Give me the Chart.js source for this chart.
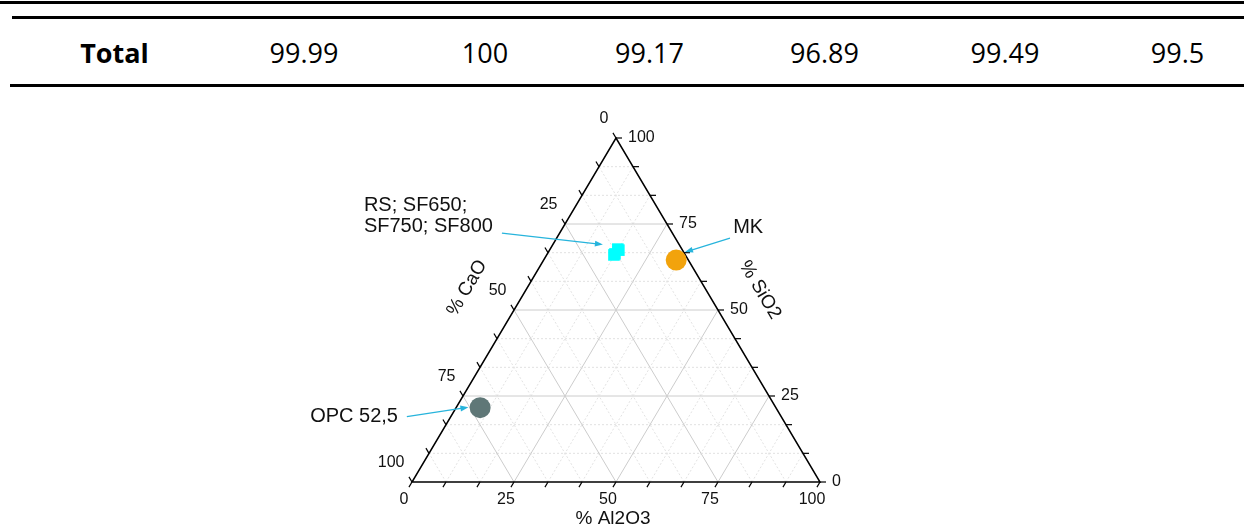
<!DOCTYPE html>
<html>
<head>
<meta charset="utf-8">
<script src="https://cdn.jsdelivr.net/npm/chart.js@4"></script>
<style>
  body { margin: 0; background: #fff; }
  #wrap { position: relative; width: 1244px; height: 528px; overflow: hidden; }
  #grafico { position: absolute; left: 0; top: 0; }
  .linea { position: absolute; right: 0; background: #000; }
  .celda { position: absolute; top: 52px; transform: translate(-50%, -50%);
           font-family: 'Open Sans', sans-serif; font-size: 27px; color: #000; white-space: nowrap; }
</style>
</head>
<body>
<div id="wrap">
  <div class="linea" style="left:0; top:1px; height:3px;"></div>
  <div class="linea" style="left:12px; top:16px; height:3px;"></div>
  <div class="linea" style="left:10px; top:84px; height:3px;"></div>
  <div id="tabla"></div>
  <canvas id="grafico" width="1244" height="528"></canvas>
</div>
<script>
// fila de la tabla
const filaTitulo = 'Total'
const totales = ['99.99', '100', '99.17', '96.89', '99.49', '99.5']

// composiciones (% en masa)
const rsNombres = ['RS', 'SF650', 'SF750', 'SF800']
const rsSiO2 = [67.7, 67.4, 66.0, 66.3]
const rsAl2O3 = [16.6, 17.0, 16.5, 16.6]
const rsCaO = [15.7, 15.6, 17.5, 17.1]

const mkSiO2 = [64.5]
const mkAl2O3 = [32.5]
const mkCaO = [3.0]

const opcSiO2 = [21.6]
const opcAl2O3 = [5.9]
const opcCaO = [72.5]

const tickLabels = ['0', '25', '50', '75', '100']

// tabla en html
const columnas = [114.5, 304, 485, 649.5, 824.5, 1005, 1177.5]
const tabla = document.getElementById('tabla')
const celdas = [filaTitulo, ...totales]
celdas.forEach((txt, i) => {
    const span = document.createElement('span')
    span.className = 'celda'
    span.style.left = columnas[i] + 'px'
    if (i === 0) span.style.fontWeight = 'bold'
    span.textContent = txt
    tabla.appendChild(span)
})

// ternario -> cartesiano
const aXY = (si, al, ca) => si.map((s, i) => {
    const suma = s + al[i] + ca[i]
    const fs = s / suma
    const fa = al[i] / suma
    return { x: fa + fs / 2, y: fs }
})

const fuente = "'Liberation Sans', Arial, sans-serif"
const colorFlecha = '#27b4dc'

const anotaciones = [
    { ds: 0, lineas: ['RS; SF650;', 'SF750; SF800'], dx: -252.5, dy: [-47, -26], desde: [-114.5, -19], hasta: [-13.5, -7.5] },
    { ds: 1, lineas: ['MK'], dx: 57, dy: [-32.6], desde: [53.8, -22], hasta: [8.8, -8] },
    { ds: 2, lineas: ['OPC 52,5'], dx: -170, dy: [9], desde: [-73.3, 9], hasta: [-11.7, -0.4] }
]

const flecha = (ctx, x1, y1, x2, y2) => {
    const ang = Math.atan2(y2 - y1, x2 - x1)
    ctx.strokeStyle = colorFlecha
    ctx.fillStyle = colorFlecha
    ctx.lineWidth = 1.2
    ctx.beginPath()
    ctx.moveTo(x1, y1)
    ctx.lineTo(x2 - 6 * Math.cos(ang), y2 - 6 * Math.sin(ang))
    ctx.stroke()
    ctx.beginPath()
    ctx.moveTo(x2, y2)
    ctx.lineTo(x2 - 8 * Math.cos(ang) + 3 * Math.sin(ang), y2 - 8 * Math.sin(ang) - 3 * Math.cos(ang))
    ctx.lineTo(x2 - 8 * Math.cos(ang) - 3 * Math.sin(ang), y2 - 8 * Math.sin(ang) + 3 * Math.cos(ang))
    ctx.closePath()
    ctx.fill()
}

const ternario = {
    id: 'ternario',
    beforeDatasetsDraw(chart) {
        const ctx = chart.ctx
        const xs = chart.scales.x
        const ys = chart.scales.y
        // a = fraccion Al2O3, s = fraccion SiO2
        const p = (a, s) => ({ x: xs.getPixelForValue(a + s / 2), y: ys.getPixelForValue(s) })
        const linea = (p1, p2) => { ctx.beginPath(); ctx.moveTo(p1.x, p1.y); ctx.lineTo(p2.x, p2.y); ctx.stroke() }
        const n = 12
        ctx.save()
        // rejilla
        for (let k = 1; k < n; k++) {
            const f = k / n
            const mayor = k % 3 === 0
            ctx.strokeStyle = mayor ? '#cccccc' : '#e2e2e2'
            ctx.lineWidth = 1
            ctx.setLineDash(mayor ? [] : [2, 2])
            linea(p(0, f), p(1 - f, f))
            linea(p(f, 0), p(f, 1 - f))
            linea(p(1 - f, 0), p(0, 1 - f))
        }
        ctx.setLineDash([])
        // bordes
        const bl = p(0, 0), br = p(1, 0), top = p(0, 1)
        ctx.strokeStyle = '#000'
        ctx.lineWidth = 1.5
        ctx.beginPath()
        ctx.moveTo(bl.x, bl.y); ctx.lineTo(br.x, br.y); ctx.lineTo(top.x, top.y); ctx.closePath()
        ctx.stroke()
        // ticks
        const unit = (a, b) => { const l = Math.hypot(b.x - a.x, b.y - a.y); return { x: (b.x - a.x) / l, y: (b.y - a.y) / l } }
        const dIzq = unit(top, bl)   // Al2O3 abajo-izquierda
        const dArr = unit(br, top)   // CaO arriba-izquierda
        const largo = 6
        ctx.lineWidth = 1.2
        ctx.fillStyle = '#111'
        ctx.font = '16px ' + fuente
        for (let k = 0; k <= n; k++) {
            const f = k / n
            // Al2O3 (abajo)
            const pb = p(f, 0)
            linea(pb, { x: pb.x + dIzq.x * largo, y: pb.y + dIzq.y * largo })
            // CaO (izquierda), c = f
            const pl = p(0, 1 - f)
            linea(pl, { x: pl.x + dArr.x * largo, y: pl.y + dArr.y * largo })
            // SiO2 (derecha), s = f
            const pr = p(1 - f, f)
            linea(pr, { x: pr.x + largo, y: pr.y })
            if (k % 3 === 0) {
                const t = tickLabels[k / 3]
                ctx.textBaseline = 'middle'
                ctx.textAlign = 'center'
                ctx.fillText(t, pb.x - 8, pb.y + 18)
                ctx.textAlign = 'right'
                ctx.fillText(t, pl.x - 7.5, pl.y - 19.5)
                ctx.textAlign = 'left'
                ctx.fillText(t, pr.x + 12, pr.y)
            }
        }
        // titulos de ejes
        ctx.font = '19px ' + fuente
        ctx.textAlign = 'center'
        ctx.textBaseline = 'middle'
        const mb = p(0.5, 0)
        ctx.fillText('% Al2O3', mb.x - 3, mb.y + 37)
        const ang = Math.atan2(top.y - bl.y, top.x - bl.x)
        const ml = p(0, 0.5)
        ctx.save(); ctx.translate(ml.x - 47, ml.y - 22); ctx.rotate(ang); ctx.fillText('% CaO', 0, 0); ctx.restore()
        const mr = p(0.5, 0.5)
        ctx.save(); ctx.translate(mr.x + 42, mr.y - 20); ctx.rotate(-ang); ctx.fillText('% SiO2', 0, 0); ctx.restore()
        ctx.restore()
    },
    afterDatasetsDraw(chart) {
        const ctx = chart.ctx
        ctx.save()
        anotaciones.forEach((an) => {
            const pts = chart.getDatasetMeta(an.ds).data
            const cx = pts.reduce((s, e) => s + e.x, 0) / pts.length
            const cy = pts.reduce((s, e) => s + e.y, 0) / pts.length
            ctx.fillStyle = '#111'
            ctx.font = '20px ' + fuente
            ctx.textAlign = 'left'
            ctx.textBaseline = 'middle'
            an.lineas.forEach((l, i) => ctx.fillText(l, cx + an.dx, cy + an.dy[i]))
            flecha(ctx, cx + an.desde[0], cy + an.desde[1], cx + an.hasta[0], cy + an.hasta[1])
        })
        ctx.restore()
    }
}

const config = {
    type: 'scatter',
    data: {
        datasets: [
            { label: rsNombres.join('; '), data: aXY(rsSiO2, rsAl2O3, rsCaO), pointStyle: 'rect', pointRadius: 8.2, backgroundColor: '#00ffff', borderWidth: 0 },
            { label: 'MK', data: aXY(mkSiO2, mkAl2O3, mkCaO), pointRadius: 10.5, backgroundColor: '#f2a30c', borderWidth: 0 },
            { label: 'OPC 52,5', data: aXY(opcSiO2, opcAl2O3, opcCaO), pointRadius: 10.5, backgroundColor: '#5f7777', borderWidth: 0 }
        ]
    },
    options: {
        responsive: false,
        animation: false,
        layout: { padding: { left: 412, right: 424, top: 138, bottom: 46 } },
        scales: {
            x: { type: 'linear', min: 0, max: 1, display: false },
            y: { type: 'linear', min: 0, max: 1, display: false }
        },
        plugins: { legend: { display: false }, tooltip: { enabled: false } }
    },
    plugins: [ternario]
}

const myChart = new Chart(document.getElementById('grafico'), config)
</script>
</body>
</html>
